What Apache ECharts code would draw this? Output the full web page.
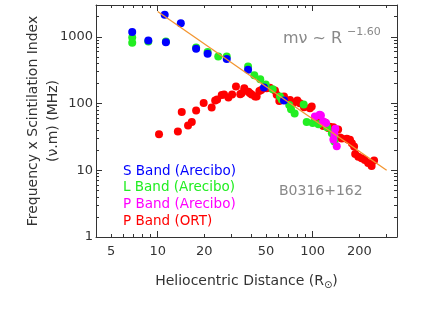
<!DOCTYPE html>
<html>
<head>
<meta charset="utf-8">
<script src="https://cdn.jsdelivr.net/npm/echarts@6/dist/echarts.min.js"></script>
<style>html,body{margin:0;padding:0;background:#fff}#c{width:425px;height:327px}</style>
</head>
<body>
<div id="c"></div>
<script>
// ---- data ----
const sBandX = [6.85, 8.7, 11.3, 11.1, 14.1, 17.7, 21, 27.9, 38.3, 48.5, 65.3];
const sBandY = [1180, 880, 833, 2140, 1600, 661, 556, 464, 320, 174, 111];

const lBandX = [6.85, 6.85, 8.7, 11.3, 17.7, 21, 24.6, 27.9, 38.3, 42, 45.9, 49.8, 55.2, 61.5, 63.2, 70.6, 72.5, 76.5, 87.5, 91.5, 100, 109, 124, 133, 138, 138];
const lBandY = [976, 813, 850, 850, 691, 590, 506, 506, 359, 266, 232, 193, 164, 128, 115, 95, 82, 71, 97, 53, 51, 49, 44, 36, 27, 33];

const pBandX = [103.5, 111, 113, 117, 122, 136, 138, 140, 143];
const pBandY = [64, 68, 66, 54, 51, 29, 35, 42, 23];

const ortX = [10.2, 13.5, 14.3, 15.7, 16.6, 17.7, 19.8, 22.3, 23.5, 24.2, 25.9, 26.8, 28.6, 30.2, 32, 34.1, 34.8, 36.2, 38.5, 39.4, 40.4, 42.5, 43.5, 45.3, 46.6, 50.5, 53, 57.1, 58.6, 60.9, 65.3, 71.4, 75, 79.6, 82.8, 87.9, 96, 98.6, 103.5, 108.7, 111.5, 117, 120, 126, 129, 136, 136, 146, 150, 154, 166, 170, 174, 179, 185, 188, 197, 207, 217, 228, 240, 249];
const ortY = [34.8, 38, 75, 47, 53, 79, 102, 87, 111, 115, 134, 137, 123, 137, 180, 138, 143, 170, 150, 143, 137, 128, 128, 154, 160, 170, 172, 157, 135, 109, 128, 113, 102, 111, 101, 88, 85, 90, 62.5, 58, 57, 46, 52, 43, 45, 44, 38, 41, 31, 30, 29.6, 28.6, 28.6, 25.5, 22.7, 17.6, 16, 15.2, 14.3, 12.8, 11.6, 14];

const fitX = [10, 300];
const fitY = [2400, 10];

const xRange = [4, 350];
const yRange = [1, 3000];
const xTickLabels = [5, 10, 20, 50, 100, 200];
const xMajorTicks = [10, 100];
const xMinorTicks = [5, 6, 7, 8, 9, 20, 30, 40, 50, 60, 70, 80, 90, 200, 300];
const yTickLabels = [1, 10, 100, 1000];
const yMajorTicks = [1, 10, 100, 1000];
const yMinorTicks = [2, 3, 4, 5, 6, 7, 8, 9, 20, 30, 40, 50, 60, 70, 80, 90, 200, 300, 400, 500, 600, 700, 800, 900, 2000, 3000];

const seriesNames = ['S Band (Arecibo)', 'L Band (Arecibo)', 'P Band (Arecibo)', 'P Band (ORT)'];
const seriesColors = ['#0000ff', '#22ee22', '#ff00ff', '#ff0000'];
// ----------------------------------------

const zip = (xs, ys) => xs.map((x, i) => [x, ys[i]]);
const FONT = 'DejaVu Sans';
const AX = '#333';
const TXT = '#333';
const plain = v => String(Math.round(v));

function xAx(pos, major, withLabels) {
  return {
    type: 'log', logBase: 10, min: xRange[0], max: xRange[1], position: pos,
    axisLine: { show: major, lineStyle: { color: AX, width: 1 } },
    axisTick: { show: true, inside: true, length: major ? 6 : 3, customValues: major ? xMajorTicks : xMinorTicks, lineStyle: { color: AX, width: 1 } },
    axisLabel: withLabels ? { show: true, customValues: xTickLabels, formatter: plain, margin: 8, fontFamily: FONT, fontSize: 13, color: TXT } : { show: false },
    minorTick: { show: false }, splitLine: { show: false }
  };
}
function yAx(pos, major, withLabels) {
  return {
    type: 'log', logBase: 10, min: yRange[0], max: yRange[1], position: pos,
    axisLine: { show: major, lineStyle: { color: AX, width: 1 } },
    axisTick: { show: true, inside: true, length: major ? 6 : 3, customValues: major ? yMajorTicks : yMinorTicks, lineStyle: { color: AX, width: 1 } },
    axisLabel: withLabels ? { show: true, customValues: yTickLabels, formatter: plain, margin: 3, fontFamily: FONT, fontSize: 13, color: TXT } : { show: false },
    minorTick: { show: false }, splitLine: { show: false }
  };
}

const xAxes = [xAx('bottom', true, true), xAx('bottom', false, false), xAx('top', true, false), xAx('top', false, false)];
xAxes[0].name = '{t|Heliocentric Distance (R}{s|⊙}{t|)}';
xAxes[0].nameLocation = 'middle';
xAxes[0].nameGap = 35;
xAxes[0].nameMoveOverlap = false;
xAxes[0].nameTextStyle = { fontFamily: FONT, fontSize: 14, color: TXT, rich: { t: { fontFamily: FONT, fontSize: 14, color: TXT }, s: { fontFamily: FONT, fontSize: 10, color: TXT, padding: [8, 0, 0, 0] } } };

const yAxes = [yAx('left', true, true), yAx('left', false, false), yAx('right', true, false), yAx('right', false, false)];
yAxes[0].name = 'Frequency x Scintilation Index\n(ν.m) (MHz)';
yAxes[0].nameLocation = 'middle';
yAxes[0].nameGap = 33;
yAxes[0].nameMoveOverlap = false;
yAxes[0].nameTextStyle = { fontFamily: FONT, fontSize: 14, color: TXT, lineHeight: 20, align: 'center' };

const sets = [zip(sBandX, sBandY), zip(lBandX, lBandY), zip(pBandX, pBandY), zip(ortX, ortY)];
const drawOrder = [3, 1, 2, 0];
const series = drawOrder.map((k, i) => ({
  name: seriesNames[k], type: 'scatter', data: sets[k], symbol: 'circle', symbolSize: 8,
  itemStyle: { color: seriesColors[k], opacity: 1 }, z: 2 + i, xAxisIndex: 0, yAxisIndex: 0
}));
series.push({
  name: 'fit', type: 'line', data: zip(fitX, fitY), showSymbol: false, symbol: 'none',
  lineStyle: { color: '#f39530', width: 1.3 }, z: 10, xAxisIndex: 0, yAxisIndex: 0
});

const chart = echarts.init(document.getElementById('c'), null, { renderer: 'canvas' });
chart.setOption({
  animation: false,
  backgroundColor: '#fff',
  grid: { left: 96, right: 28, top: 5, bottom: 90, containLabel: false },
  xAxis: xAxes,
  yAxis: yAxes,
  legend: {
    orient: 'vertical', left: 113, top: 159, itemWidth: 0, itemHeight: 14, itemGap: 2.7,
    itemStyle: { opacity: 0 }, selectedMode: false,
    textStyle: { fontFamily: FONT, fontSize: 13.5 },
    data: seriesNames.map((n, i) => ({ name: n, icon: 'rect', textStyle: { color: seriesColors[i], fontFamily: FONT, fontSize: 13.5 } }))
  },
  graphic: [
    { type: 'text', left: 283, top: 31, style: { text: 'mν ~ R', fontFamily: FONT, fontSize: 16, fill: '#888' } },
    { type: 'text', left: 347, top: 27, style: { text: '−1.60', fontFamily: FONT, fontSize: 11, fill: '#888' } },
    { type: 'text', left: 279, top: 184, style: { text: 'B0316+162', fontFamily: FONT, fontSize: 14, fill: '#888' } }
  ],
  series: series
});
</script>
</body>
</html>
